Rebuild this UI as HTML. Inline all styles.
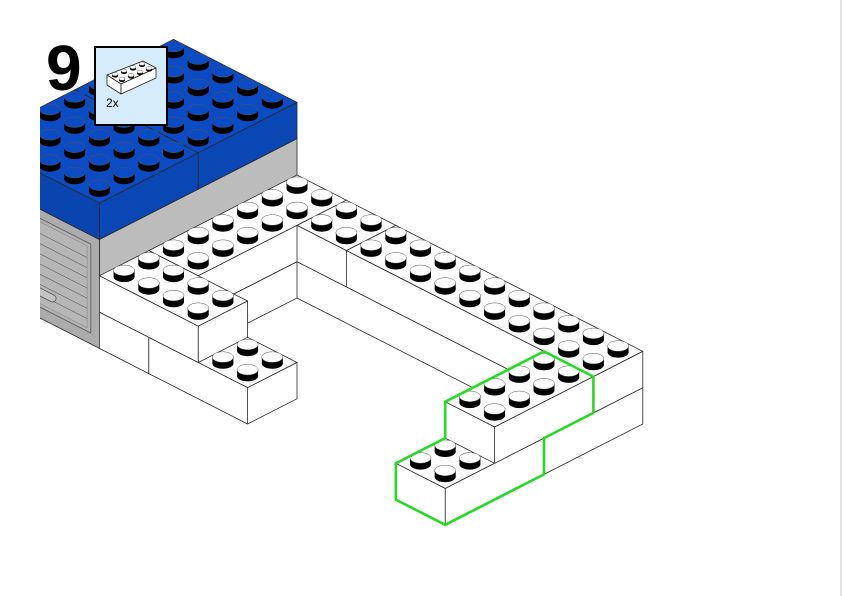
<!DOCTYPE html>
<html><head><meta charset="utf-8"><style>
html,body{margin:0;padding:0;background:#fff;width:842px;height:596px;overflow:hidden}
#wrap{position:relative;width:842px;height:596px}
svg{position:absolute;left:0;top:0}
.num{position:absolute;left:46px;top:36px;font:bold 64px "Liberation Sans",sans-serif;line-height:64px;color:#000}
.edge{position:absolute;left:840px;top:0;width:2px;height:596px;background:#e2e2e2}
</style></head><body><div id="wrap">
<svg id="s" width="842" height="596" viewBox="0 0 842 596" xmlns="http://www.w3.org/2000/svg">
<defs><clipPath id="cp"><rect x="40" y="0" width="800" height="596"/></clipPath></defs>
<g id="g" clip-path="url(#cp)"></g>
<g id="ov"></g>
<rect x="95" y="47" width="72" height="78" fill="#d6ecfb" stroke="#000" stroke-width="2"/>
<g id="mini"></g>
<text x="106" y="107" font-family="Liberation Sans, sans-serif" font-size="12" fill="#000">2x</text>
</svg>
<div class="num">9</div>
<div class="edge"></div>
</div>
<script>
(function(){
var NS="http://www.w3.org/2000/svg";
var g=document.getElementById('g'),ov=document.getElementById('ov'),mini=document.getElementById('mini');
function P(a,b,z){return [297+24.7*(a-b),175+12.6*(a+b)+(2-z)*36.3];}
function el(par,tag,at){var e=document.createElementNS(NS,tag);for(var k in at)e.setAttribute(k,at[k]);par.appendChild(e);return e;}
function poly(par,pts,fill,stroke,sw){el(par,'polygon',{points:pts.map(function(p){return p[0].toFixed(1)+','+p[1].toFixed(1)}).join(' '),fill:fill,stroke:stroke||'#2a2a2a','stroke-width':sw||0.8,'stroke-linejoin':'round'});}
function box(B){var a0=B.a[0],a1=B.a[1],b0=B.b[0],b1=B.b[1],z0=B.z[0],z1=B.z[1];
 poly(g,[P(a0,b0,z1),P(a1,b0,z1),P(a1,b1,z1),P(a0,b1,z1)],B.top);
 poly(g,[P(a1,b0,z1),P(a1,b1,z1),P(a1,b1,z0),P(a1,b0,z0)],B.fa);
 poly(g,[P(a0,b1,z1),P(a1,b1,z1),P(a1,b1,z0),P(a0,b1,z0)],B.fb);}
function stud(cx,cy,rx,ry,h,topc,par){
 el(par,'ellipse',{cx:cx,cy:cy,rx:rx,ry:ry,fill:'#000'});
 el(par,'rect',{x:cx-rx,y:cy-h,width:2*rx,height:h,fill:'#000'});
 el(par,'ellipse',{cx:cx,cy:cy-h,rx:rx,ry:ry,fill:topc,stroke:'#555','stroke-width':0.5});}
var W='#fff';
var bricks=[
 // building
 {a:[-5,0],b:[0,8],z:[0,3],top:'#bbb',fa:'#bcbcbc',fb:'#acacac',ns:1},
 {a:[-5,0],b:[0,4],z:[3,4],top:'#0b4cc4',fa:'#0a46b4',fb:'#0a44ae',bl:1},
 {a:[-5,0],b:[4,8],z:[3,4],top:'#0b4cc4',fa:'#0a46b4',fb:'#0a44ae',bl:1},
];
var white=[
 {a:[0,2],b:[0,8],z:[0,1]},
 {a:[2,12],b:[0,2],z:[0,1]},
 {a:[2,6],b:[6,8],z:[0,1]},
 {a:[12,14],b:[0,4],z:[0,1]},
 {a:[12,14],b:[4,8],z:[0,1]},
 {a:[0,2],b:[0,6],z:[1,2]},
 {a:[2,4],b:[0,2],z:[1,2]},
 {a:[4,14],b:[0,2],z:[1,2]},
 {a:[0,4],b:[6,8],z:[1,2]},
 {a:[12,14],b:[2,6],z:[1,2]}
];
white.forEach(function(w){w.top=W;w.fa=W;w.fb=W;});
// draw building
box(bricks[0]);
// shutter on b=8 face
function Q(a,z){return P(a,8,z);}
poly(g,[Q(-5,2.75),Q(-0.35,2.75),Q(-0.35,0.3),Q(-5,0.3)],'#b3b3b3','#666',1);
poly(g,[Q(-5,2.65),Q(-0.5,2.65),Q(-0.5,0.4),Q(-5,0.4)],'#b6b6b6','#888',0.6);
for(var z=0.65;z<2.6;z+=0.28){var p1=Q(-5,z),p2=Q(-0.5,z);el(g,'line',{x1:p1[0],y1:p1[1],x2:p2[0],y2:p2[1],stroke:'#6a6a6a','stroke-width':0.7});}
var h1=Q(-2.6,0.72),h2=Q(-1.9,0.72);
el(g,'line',{x1:h1[0],y1:h1[1],x2:h2[0],y2:h2[1],stroke:'#555','stroke-width':8,'stroke-linecap':'round'});
el(g,'line',{x1:h1[0],y1:h1[1],x2:h2[0],y2:h2[1],stroke:'#c4c4c4','stroke-width':6.4,'stroke-linecap':'round'});
box(bricks[1]);box(bricks[2]);
// blue studs
var studs=[];
for(var a=-5;a<0;a++)for(var b=0;b<8;b++)studs.push({a:a,b:b,z:4,c:'#0b4cc4'});
white.forEach(function(w){box(w);});
white.forEach(function(w){
 for(var a=w.a[0];a<w.a[1];a++)for(var b=w.b[0];b<w.b[1];b++){
  var cov=white.some(function(o){return o!==w&&o.z[0]===w.z[1]&&a>=o.a[0]&&a<o.a[1]&&b>=o.b[0]&&b<o.b[1];});
  if(!cov)studs.push({a:a,b:b,z:w.z[1],c:'#fff'});
 }});
studs.sort(function(s,t){return (s.a+s.b)-(t.a+t.b)||s.z-t.z;});
studs.forEach(function(s){var c=P(s.a+0.5,s.b+0.5,s.z);stud(c[0],c[1]+1,10.5,5.3,6.4,s.c,g);});
// green outline
var gp=[P(14,2,2),P(14,2,1),P(14,4,1),P(14,4,0),P(14,8,0),P(12,8,0),P(12,8,1),P(12,6,1),P(12,6,2),P(12,2,2)];
el(ov,'polygon',{points:gp.map(function(p){return p[0].toFixed(1)+','+p[1].toFixed(1)}).join(' '),fill:'none',stroke:'#22dd22','stroke-width':2.6,'stroke-linejoin':'round'});
// mini brick
var L=[107,75],T=[143,61],R=[156,68],F=[121,84],hh=10;
function sh(p){return [p[0],p[1]+hh];}
poly(mini,[L,T,R,F],'#fff','#222',0.8);
poly(mini,[L,F,sh(F),sh(L)],'#fff','#222',0.8);
poly(mini,[F,R,sh(R),sh(F)],'#fff','#222',0.8);
for(var i=0;i<4;i++)for(var j=0;j<2;j++){
 var x=L[0]+(i+0.5)*9+(j+0.5)*7,y=L[1]+(i+0.5)*(-3.5)+(j+0.5)*4.5;
 stud(x,y+0.5,3,1.6,1.8,'#fff',mini);}
})();
</script>
</body></html>
